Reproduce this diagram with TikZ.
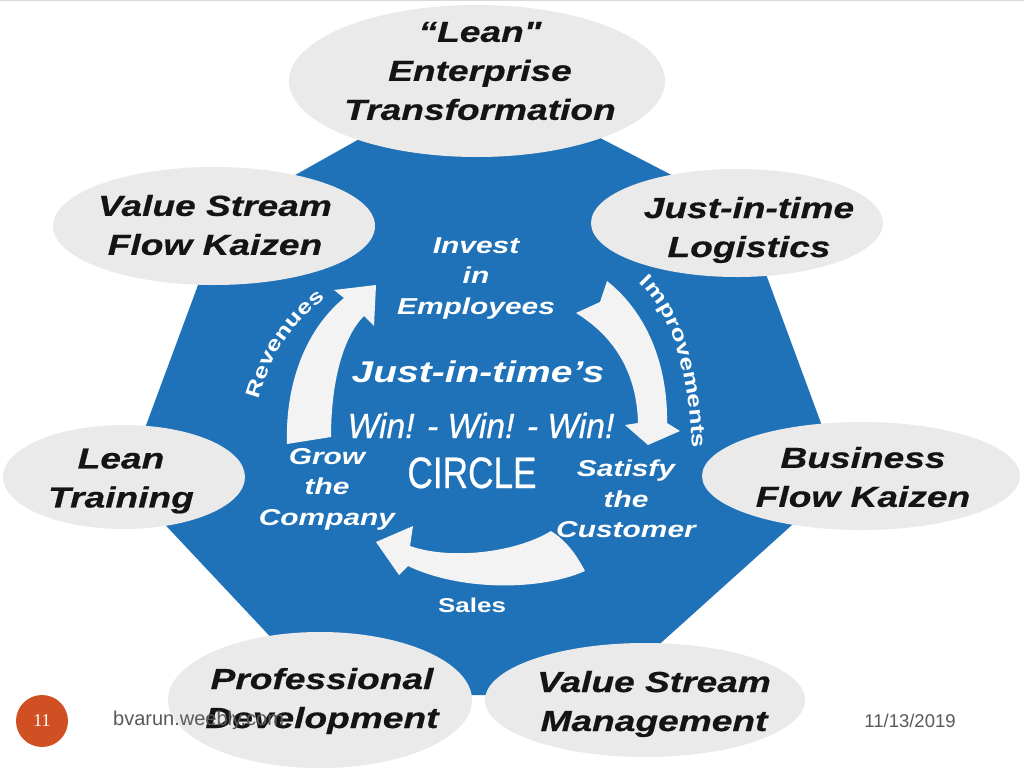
\documentclass[tikz,border=0pt]{standalone}
\usepackage{fontspec}
\setmainfont{Liberation Sans}
\newfontfamily\widefont{Liberation Sans}[FakeStretch=1.3]
\newfontfamily\heavyfont{Liberation Sans}[FakeStretch=1.28,FakeBold=0.6]
\newfontfamily\narrowfont{Liberation Sans}[FakeStretch=0.8,FakeBold=0.5]
\newfontfamily\winfont{Liberation Sans}[FakeStretch=0.96,FakeBold=0.6]
\newfontfamily\numfont{Liberation Serif}
\usetikzlibrary{shapes.geometric,decorations.text}
\definecolor{hexblue}{RGB}{31,114,183}
\definecolor{bubble}{RGB}{234,234,234}
\definecolor{arrowwhite}{RGB}{243,243,243}
\definecolor{footgray}{RGB}{89,89,89}
\definecolor{pageorange}{RGB}{209,80,35}
\definecolor{inkblack}{RGB}{20,20,20}
\begin{document}
\begin{tikzpicture}[x=1pt,y=-1pt,
  bubblestyle/.style={ellipse, fill=bubble, inner sep=0pt},
  bubbletext/.style={font={\heavyfont\bfseries\itshape\fontsize{29}{39}\selectfont}, text=inkblack, align=center, inner sep=0pt},
  innertext/.style={font={\widefont\bfseries\itshape\fontsize{23}{30.5}\selectfont}, text=white, align=center, inner sep=0pt},
  flowlabel/.style={font={\widefont\bfseries\fontsize{20}{24}\selectfont}, text=white, inner sep=0pt},
  curvedlabel/.style={decorate, decoration={text along path, text align=center, text color=white, text={|\widefont\bfseries\fontsize{20}{24}\selectfont|#1}}},
  arrowbody/.style={fill=arrowwhite},
  foottext/.style={text=footgray, inner sep=0pt}]

\useasboundingbox (0,0) rectangle (1024,768);
\fill[white] (0,0) rectangle (1024,768);
\draw[gray!30, line width=1.5pt] (0,0.75) -- (1024,0.75);

% blue polygon
\fill[hexblue] (411,110) -- (546,110) -- (743,212) -- (842,480) -- (603,695) -- (325,695) -- (125,482) -- (224,215) -- cycle;

% arrows of the circle
\fill[arrowbody] (287,444) .. controls (285,385) and (305,330) .. (344,298)
  -- (334,290) -- (376,285) -- (374,326) -- (364,316)
  .. controls (342,338) and (331,385) .. (331,437) -- cycle;
\fill[arrowbody] (607,281) .. controls (650,315) and (668,370) .. (667,423)
  -- (680,431) -- (648,445) -- (625,425) -- (638,423)
  .. controls (637,380) and (620,340) .. (576,313) -- (600,302) -- cycle;
\fill[arrowbody] (585,571) .. controls (575,552) and (565,540) .. (551,531)
  .. controls (515,553) and (450,560) .. (410,546)
  -- (413,526) -- (376,542) -- (399,575) -- (408,566)
  .. controls (460,591) and (540,591) .. (585,571) -- cycle;

% inner texts
\node[innertext] (invest) at (476,278) {Invest\\in\\Employees};
\node[innertext] (grow) at (327,489) {Grow\\the\\Company};
\node[innertext] (satisfy) at (626,499) {Satisfy\\the\\Customer};
\node[flowlabel, anchor=base] (sales) at (472,612) {Sales};
\path[curvedlabel=Revenues] (254,416) .. controls (269,351) and (294,321) .. (339,288);
\path[curvedlabel=Improvements] (639,283) .. controls (671,313) and (689,368) .. (692,448);

\node[anchor=base, inner sep=0pt, text=white, font={\widefont\bfseries\itshape\fontsize{30}{36}\selectfont}] (jit) at (478,382) {Just-in-time’s};
\node[anchor=base, inner sep=0pt, text=white, font={\winfont\itshape\fontsize{35}{40}\selectfont}] (win) at (481,438) {Win! - Win! - Win!};
\node[anchor=base, inner sep=0pt, text=white, font={\narrowfont\fontsize{44}{48}\selectfont}] (circ) at (472,488) {CIRCLE};

% bubbles
\node[bubblestyle, minimum width=376pt, minimum height=152pt] (e1) at (477,81) {};
\node[bubblestyle, minimum width=322pt, minimum height=118pt] (e2) at (214,226) {};
\node[bubblestyle, minimum width=292pt, minimum height=108pt] (e3) at (737,223) {};
\node[bubblestyle, minimum width=242pt, minimum height=104pt] (e4) at (124,477) {};
\node[bubblestyle, minimum width=318pt, minimum height=108pt] (e5) at (861,476) {};
\node[bubblestyle, minimum width=304pt, minimum height=136pt] (e6) at (320,700) {};
\node[bubblestyle, minimum width=320pt, minimum height=114pt] (e7) at (645,700) {};

\node[bubbletext] (t1) at (480,71) {“Lean"\\Enterprise\\Transformation};
\node[bubbletext] (t2) at (215,225) {Value Stream\\Flow Kaizen};
\node[bubbletext] (t3) at (749,230) {Just-in-time\\Logistics};
\node[bubbletext] (t4) at (121,481) {Lean\\Training};
\node[bubbletext] (t5) at (863,477) {Business\\Flow Kaizen};
\node[bubbletext] (t6) at (322,701) {Professional\\Development};
\node[bubbletext] (t7) at (654,704) {Value Stream\\Management};

% footer
\node[circle, fill=pageorange, minimum size=52pt, inner sep=0pt] (pg) at (42,721) {};
\node[text=white, inner sep=0pt, font={\numfont\fontsize{18}{20}\selectfont}] (pgnum) at (pg.center) {11};
\node[foottext, anchor=base west, font={\fontsize{20}{24}\selectfont}] (url) at (113,725) {bvarun.weebly.com};
\node[foottext, anchor=base, font={\fontsize{18.5}{22}\selectfont}] (date) at (910,727) {11/13/2019};
\end{tikzpicture}
\end{document}
